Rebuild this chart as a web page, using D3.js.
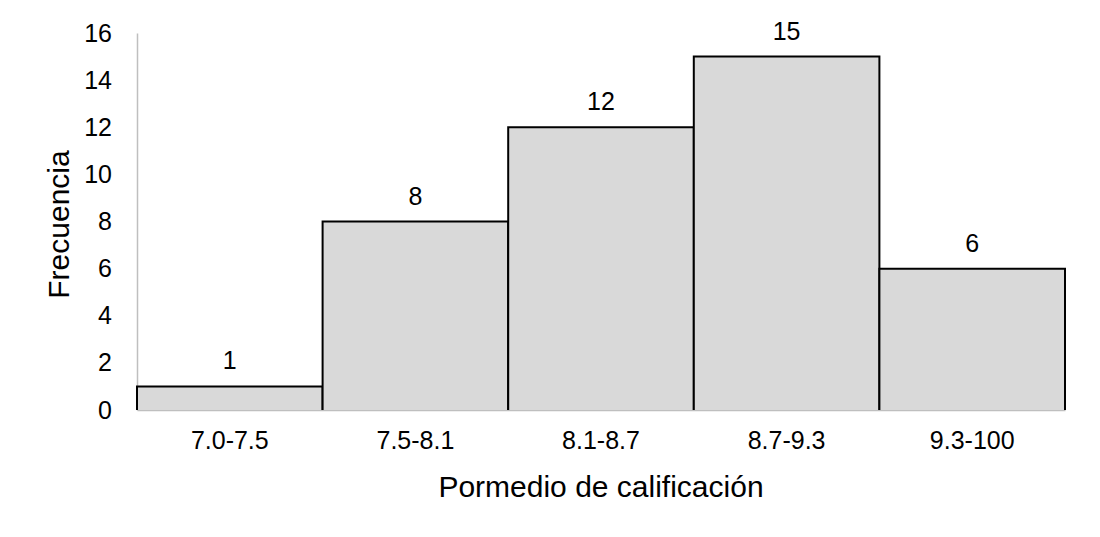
<!DOCTYPE html>
<html>
<head>
<meta charset="utf-8">
<script src="https://cdn.jsdelivr.net/npm/d3@7"></script>
<style>
  body { margin: 0; background: #fff; }
  text { font-family: "Liberation Sans", Arial, sans-serif; fill: #000; }
</style>
</head>
<body>
<script>
var categories = ["7.0-7.5", "7.5-8.1", "8.1-8.7", "8.7-9.3", "9.3-100"];
var frecuencia = [1, 8, 12, 15, 6];
var yTicks = [0, 2, 4, 6, 8, 10, 12, 14, 16];

var width = 1100,
    height = 537;

var margin = {left: 137, right: 35, top: 33, bottom: 127};

var svg = d3.select("body").append("svg")
    .attr("width", width)
    .attr("height", height);

var x = d3.scaleBand()
    .domain(categories)
    .range([margin.left, width - margin.right])
    .padding(0);

var y = d3.scaleLinear()
    .domain([0, 16])
    .range([height - margin.bottom, margin.top]);

// y axis line + labels
var yAxis = svg.append("g")
    .attr("transform", "translate(" + margin.left + ",0)")
    .call(d3.axisLeft(y).tickValues(yTicks).tickSize(0).tickPadding(25));
yAxis.select(".domain").attr("stroke", "#bfbfbf").attr("stroke-width", 1.5);
yAxis.selectAll("text").style("font-size", "25px").style("font-family", "Liberation Sans, Arial, sans-serif");

// x axis line + labels
var xAxis = svg.append("g")
    .attr("transform", "translate(0," + y(0) + ")")
    .call(d3.axisBottom(x).tickSize(0).tickPadding(21));
xAxis.select(".domain").attr("stroke", "#bfbfbf").attr("stroke-width", 1.5);
xAxis.selectAll("text").style("font-size", "25px").style("font-family", "Liberation Sans, Arial, sans-serif");

// bars (no bottom edge)
var bars = svg.selectAll(".bar")
    .data(categories)
    .enter().append("g")
      .attr("class", "bar");

bars.append("rect")
    .attr("x", function(d) { return x(d); })
    .attr("y", function(d, i) { return y(frecuencia[i]); })
    .attr("width", x.bandwidth())
    .attr("height", function(d, i) { return y(0) - y(frecuencia[i]); })
    .attr("fill", "#d9d9d9");

bars.append("path")
    .attr("d", function(d, i) {
      var x0 = x(d), x1 = x(d) + x.bandwidth(), yt = y(frecuencia[i]), yb = y(0);
      return "M" + x0 + "," + yb + "V" + yt + "H" + x1 + "V" + yb;
    })
    .attr("fill", "none")
    .attr("stroke", "#000")
    .attr("stroke-width", 2);

bars.append("text")
    .attr("x", function(d) { return x(d) + x.bandwidth() / 2; })
    .attr("y", function(d, i) { return y(frecuencia[i]) - 17; })
    .attr("text-anchor", "middle")
    .style("font-size", "25px")
    .text(function(d, i) { return frecuencia[i]; });

// axis titles
svg.append("text")
    .attr("x", x.range()[0] + (x.range()[1] - x.range()[0]) / 2)
    .attr("y", 497)
    .attr("text-anchor", "middle")
    .style("font-size", "30px")
    .text("Pormedio de calificación");

svg.append("text")
    .attr("transform", "translate(69," + (y(8) + 3) + ") rotate(-90)")
    .attr("text-anchor", "middle")
    .style("font-size", "30px")
    .text("Frecuencia");
</script>
</body>
</html>
